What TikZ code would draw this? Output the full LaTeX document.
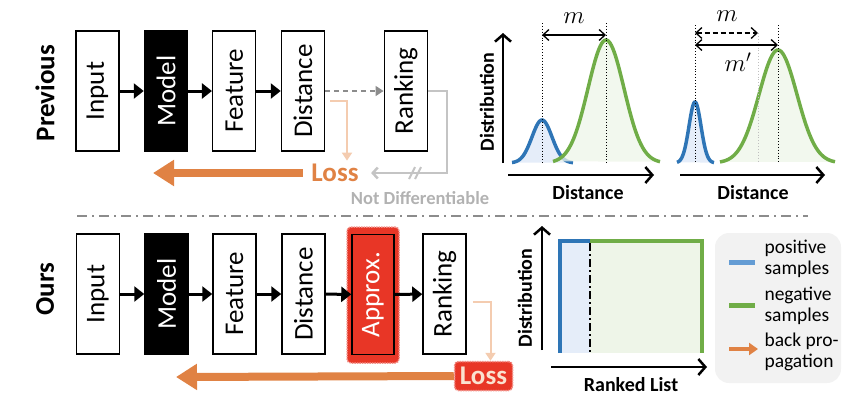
\documentclass[tikz,border=0pt]{standalone}
\usepackage{fontspec}
\setmainfont{Carlito}
\usepackage{tikz}
\usetikzlibrary{arrows.meta, shapes, positioning}
\definecolor{lossorange}{RGB}{224,130,68}
\definecolor{peach}{RGB}{244,204,176}
\definecolor{losstext}{RGB}{250,226,208}
\definecolor{apxred}{RGB}{232,54,38}
\definecolor{posblue}{RGB}{46,117,182}
\definecolor{legblue}{RGB}{100,156,212}
\definecolor{negreen}{RGB}{112,173,71}
\definecolor{posfill}{RGB}{229,237,249}
\definecolor{negfill}{RGB}{238,245,232}
\definecolor{ndgray}{RGB}{196,196,196}
\definecolor{leggray}{RGB}{242,242,242}
\newcommand{\boxfont}{\fontsize{27}{30}\selectfont}
\newcommand{\tagfont}{\fontsize{27}{30}\selectfont\bfseries}
\newcommand{\axfont}{\fontsize{20}{24}\selectfont\bfseries}
\newcommand{\legfont}{\fontsize{19.5}{21}\selectfont}
\newcommand{\mfont}{\fontsize{24}{24}\selectfont}
\tikzstyle{stage} = [rectangle, draw, line width=1.5pt, minimum width=43pt,
  minimum height=120pt, inner sep=0pt, font=\boxfont]
\tikzstyle{dstage} = [stage, fill=black, text=white]
\tikzstyle{rstage} = [stage, fill=apxred, text=white]
\tikzstyle{glow} = [rectangle, fill=apxred, draw=apxred!55!white, densely dotted,
  line width=1.5pt, rounded corners=4pt]
\tikzstyle{rowtitle} = [font=\tagfont, rotate=90]

\begin{document}
\begin{tikzpicture}[x=1pt, y=-1pt]
    \useasboundingbox (0,0) rectangle (858,416);

    \tikzstyle{arr} = [-{Triangle[length=10pt,width=15pt]}, line width=3pt];
    \tikzstyle{bigarr} = [draw=lossorange, line width=8pt, -{Triangle[length=21pt,width=25pt]}];
    \tikzstyle{backarr} = [draw=peach, line width=2pt, -{Triangle[length=8pt,width=10pt]}];
    \tikzstyle{axis} = [line width=2.5pt, -{Straight Barb[length=7pt,width=16pt]}];
    \tikzstyle{mdim} = [line width=1.3pt, {Straight Barb[length=6pt,width=11pt]}-{Straight Barb[length=6pt,width=11pt]}];
    \tikzstyle{guide} = [dotted, line width=0.9pt];

    %\draw [help lines] (0,0) grid (858,416);

    \node [rowtitle] at (45,93) (prev) {Previous};
    \node [rowtitle] at (45,289) (ours) {Ours};

    % previous pipeline
    \node [stage] at (97.5,91) (in1) {\rotatebox{90}{Input}};
    \node [dstage] at (166,91) (mod1) {\rotatebox{90}{Model}};
    \node [stage] at (234.2,91) (feat1) {\rotatebox{90}{Feature}};
    \node [stage] at (303,91) (dist1) {\rotatebox{90}{Distance}};
    \node [stage] at (405.8,91) (rank1) {\rotatebox{90}{Ranking}};

    \draw [arr] (in1) -- (mod1);
    \draw [arr] (mod1) -- (feat1);
    \draw [arr] (feat1) -- (dist1);
    \draw [draw=black!45, line width=1.5pt, dash pattern=on 5pt off 4pt,
      -{Triangle[length=8pt,width=10pt]}] (dist1) -- (rank1);

    \node [font=\tagfont, text=lossorange] at (335,173) (loss1) {Loss};
    \coordinate (bp1) at (153,173);
    \draw [bigarr, shorten <=5pt] (loss1.west) -- (bp1);
    \draw [backarr] ([xshift=5pt,yshift=-10pt]dist1.east) -| ([xshift=12pt]loss1.north);
    \draw [draw=ndgray, line width=2.5pt, -{Straight Barb[length=5pt,width=11pt]},
      shorten >=9pt] (rank1.east) -- ++(19,0) |- (loss1.east);
    \coordinate (ndmark) at (415,173);
    \draw [ndgray, line width=2pt] ([xshift=-3pt]ndmark) ++(-3pt,-6pt) -- ++(6pt,12pt);
    \draw [ndgray, line width=2pt] ([xshift=3pt]ndmark) ++(-3pt,-6pt) -- ++(6pt,12pt);
    \node [font=\fontsize{18.5}{20}\selectfont\bfseries, text=black!30] at (420,198) (nd) {Not Differentiable};

    % separator
    \draw [black!45, line width=2pt, dash pattern=on 10pt off 5pt on 2pt off 5pt] (77,216) -- (808,216);

    % our pipeline
    \node [stage] at (98,294) (in2) {\rotatebox{90}{Input}};
    \node [dstage] at (166.5,294) (mod2) {\rotatebox{90}{Model}};
    \node [stage] at (234.5,294) (feat2) {\rotatebox{90}{Feature}};
    \node [stage] at (303.5,294) (dist2) {\rotatebox{90}{Distance}};
    \node [glow, minimum width=52pt, minimum height=136pt] at (373,295) (apxo) {};
    \node [rstage, minimum width=42pt] at (373,294.5) (apx2) {\rotatebox{90}{Approx.}};
    \node [stage] at (444.5,294) (rank2) {\rotatebox{90}{Ranking}};

    \draw [arr] (in2) -- (mod2);
    \draw [arr] (mod2) -- (feat2);
    \draw [arr] (feat2) -- (dist2);
    \draw [arr] (dist2) -- (apx2);
    \draw [arr] (apx2) -- (rank2);

    \node [glow, font=\tagfont, text=losstext, minimum width=58pt, minimum height=29pt,
      inner sep=2pt] at (483.5,376) (loss2) {Loss};
    \coordinate (bp2) at (176,377);
    \draw [bigarr] (loss2.west) -- (bp2);
    \draw [backarr] ([xshift=6pt,yshift=-8pt]rank2.east) -| ([xshift=7pt]loss2.north);

    % distance distributions
    \draw [posblue, line width=3.5pt, fill=posfill] plot[domain=512:573, samples=60, smooth]
      (\x,{163-43*exp(((\x-542)^2)/(-200))});
    \draw [negreen, line width=3.5pt, fill=negfill, fill opacity=0.75] plot[domain=553:660, samples=80, smooth]
      (\x,{163-123*exp(((\x-606)^2)/(-648))});
    \draw [guide] (542,23) -- (542,163);
    \draw [guide] (606,23) -- (606,163);
    \draw [mdim] (542,35) -- (606,35);
    \node [font=\mfont] at (574,18) (m1) {$m$};
    \draw [axis] (503,163) -- (503,33);
    \draw [axis] (508,175) -- (654,175);
    \node [font=\axfont, rotate=90] at (487,102) (dy1) {Distribution};
    \node [font=\axfont] at (588,193) (dx1) {Distance};

    \draw [posblue, line width=3.5pt, fill=posfill] plot[domain=677:714, samples=60, smooth]
      (\x,{163-61*exp(((\x-695)^2)/(-72))});
    \draw [negreen, line width=3.5pt, fill=negfill, fill opacity=0.75] plot[domain=720:835, samples=80, smooth]
      (\x,{163-113*exp(((\x-778)^2)/(-722))});
    \draw [guide] (695,25) -- (695,163);
    \draw [guide] (778,25) -- (778,163);
    \draw [guide, black!25] (758,33) -- (758,163);
    \draw [mdim, dash pattern=on 5pt off 3pt] (695,33) -- (758,33);
    \draw [mdim] (695,45) -- (778,45);
    \node [font=\mfont] at (727,16) (m2) {$m$};
    \node [font=\mfont] at (738,62) (m3) {$m'$};
    \draw [axis] (680,175) -- (825,175);
    \node [font=\axfont] at (753,193) (dx2) {Distance};

    % ranked list
    \fill [posfill] (560,241) rectangle (590,353);
    \fill [negfill] (590,241) rectangle (702,353);
    \draw [posblue, line width=4pt] (560,353) -- (560,241) -- (590,241);
    \draw [negreen, line width=4pt] (590,241) -- (702,241) -- (702,353);
    \draw [line width=2pt, dash pattern=on 8pt off 3pt on 2pt off 3pt] (590,243) -- (590,353);
    \draw [axis] (542,350) -- (542,226);
    \draw [axis] (551,367) -- (707,367);
    \node [font=\axfont, rotate=90] at (525,298) (dy2) {Distribution};
    \node [font=\axfont] at (631,385) (dx3) {Ranked List};

    % legend
    \fill [leggray, rounded corners=14pt] (715,233) rectangle (841,383);
    \draw [legblue, line width=5pt] (729,262) -- (755,262);
    \draw [negreen, line width=5pt] (729,305) -- (755,305);
    \draw [lossorange, line width=3.5pt, -{Triangle[length=9pt,width=12pt]}] (729,349) -- (758,349);
    \node [font=\legfont, anchor=west, align=left] at (761,259) (lpos) {positive\\samples};
    \node [font=\legfont, anchor=west, align=left] at (761,306) (lneg) {negative\\samples};
    \node [font=\legfont, anchor=west, align=left] at (761,352) (lbp) {back pro-\\pagation};

\end{tikzpicture}
\end{document}
